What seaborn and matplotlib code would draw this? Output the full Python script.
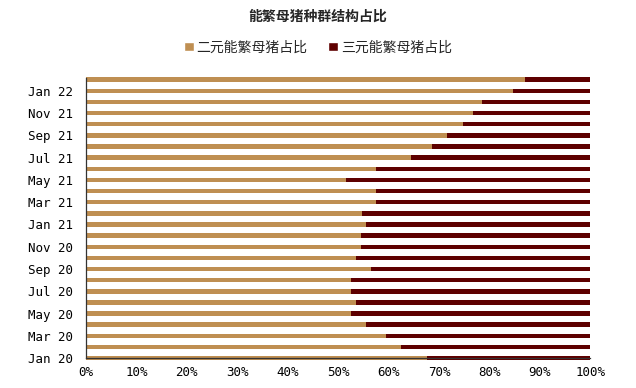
import matplotlib
matplotlib.use("Agg")
import matplotlib.pyplot as plt
from matplotlib.patches import Patch
from matplotlib.ticker import PercentFormatter
import pandas as pd
import seaborn as sns

months = ["Jan 20", "Feb 20", "Mar 20", "Apr 20", "May 20", "Jun 20", "Jul 20", "Aug 20",
          "Sep 20", "Oct 20", "Nov 20", "Dec 20", "Jan 21", "Feb 21", "Mar 21", "Apr 21",
          "May 21", "Jun 21", "Jul 21", "Aug 21", "Sep 21", "Oct 21", "Nov 21", "Dec 21",
          "Jan 22", "Feb 22"]
# share of 二元 sows (%), the rest is 三元
er_yuan = [67.7, 62.5, 59.6, 55.6, 52.6, 53.6, 52.6, 52.6,
           56.6, 53.6, 54.6, 54.6, 55.6, 54.7, 57.6, 57.6,
           51.6, 57.6, 64.5, 68.7, 71.6, 74.7, 76.7, 78.6,
           84.6, 87.1]
san_yuan = [100 - v for v in er_yuan]

tan = "#BF8F52"
dark = "#5E0000"

df = pd.DataFrame({"month": months, "er": er_yuan, "san": san_yuan})
df["total"] = df["er"] + df["san"]

sns.set_style("white")
plt.rcParams["font.family"] = ["Noto Sans CJK SC", "DejaVu Sans"]

fig = plt.figure(figsize=(6.36, 3.88), dpi=100)
ax = fig.add_axes([0.135, 0.077, 0.793, 0.722])

sns.barplot(data=df, y="month", x="total", order=months, color=dark, width=0.4,
            saturation=1, orient="h", ax=ax)
sns.barplot(data=df, y="month", x="er", order=months, color=tan, width=0.4,
            saturation=1, orient="h", ax=ax)
for p in ax.patches:
    p.set_edgecolor("none")
    p.set_clip_on(False)

ax.set_xlim(0, 100)
ax.set_ylim(0, len(months) - 0.85)
ax.xaxis.set_major_formatter(PercentFormatter(decimals=0))
ax.set_xticks(range(0, 101, 10))
ax.set_yticks(range(0, len(months), 2))
ax.set_yticklabels(months[::2])
ax.set_xlabel("")
ax.set_ylabel("")
ax.tick_params(axis="both", direction="in", length=4, width=0.8, color="#333333",
               labelsize=9, colors="black")
ax.tick_params(axis="x", pad=6)
ax.tick_params(axis="y", pad=9)
for lab in ax.get_xticklabels() + ax.get_yticklabels():
    lab.set_family("DejaVu Sans Mono")
for s in ["top", "right"]:
    ax.spines[s].set_visible(False)
for s in ["left", "bottom"]:
    ax.spines[s].set_color("#333333")
    ax.spines[s].set_linewidth(0.9)

fig.suptitle("能繁母猪种群结构占比", y=0.975, fontsize=10, fontweight="bold")
handles = [Patch(facecolor=tan, label="二元能繁母猪占比"),
           Patch(facecolor=dark, label="三元能繁母猪占比")]
fig.legend(handles=handles, loc="center", bbox_to_anchor=(0.5, 0.878), ncol=2,
           frameon=False, fontsize=10, handlelength=0.7, handleheight=0.7,
           handletextpad=0.2, columnspacing=1.5)

fig.savefig("out.png", dpi=100)
